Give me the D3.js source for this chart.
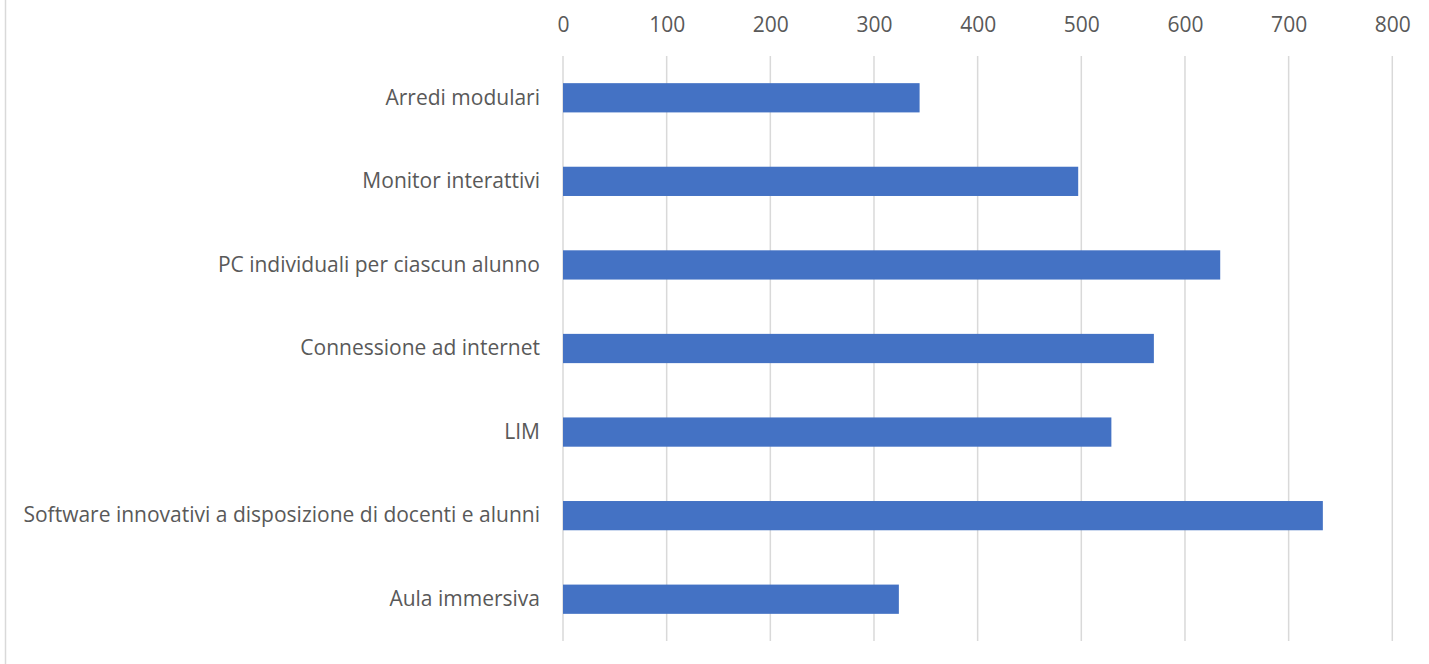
<!DOCTYPE html>
<html><head><meta charset="utf-8">
<script src="https://cdn.jsdelivr.net/npm/d3@7"></script>
<style>body{margin:0;background:#fff}svg{display:block}</style>
</head><body>
<script>
const categories = ["Arredi modulari","Monitor interattivi","PC individuali per ciascun alunno","Connessione ad internet","LIM","Software innovativi a disposizione di docenti e alunni","Aula immersiva"];
const values = [344, 497, 634, 570, 529, 733, 324];
const ticks = [0,100,200,300,400,500,600,700,800];

const W=1429,H=664;
const svg=d3.select("body").append("svg").attr("width",W).attr("height",H);
const font="'Open Sans', sans-serif";
svg.append("line").attr("x1",5.5).attr("x2",5.5).attr("y1",0).attr("y2",H).attr("stroke","#d9d9d9").attr("stroke-width",1.5);

const x=d3.scaleLinear().domain([0,800]).range([563,1392.3]);
const y=d3.scaleBand().domain(categories).range([56,641]).paddingInner(0.65).paddingOuter(0.325);

const g=svg.append("g");
g.selectAll("line.grid").data(ticks).join("line").attr("class","grid")
 .attr("x1",d=>x(d)).attr("x2",d=>x(d)).attr("y1",56).attr("y2",641)
 .attr("stroke","#d9d9d9").attr("stroke-width",1.5);

const xa=d3.axisTop(x).tickValues(ticks).tickSize(0).tickPadding(0);
const ax=svg.append("g").attr("transform","translate(0,32)").call(xa);
ax.select(".domain").remove();
ax.selectAll("text").attr("font-family",font).attr("font-size",21).attr("fill","#595959").attr("dy",0);

g.selectAll("rect").data(values).join("rect")
 .attr("x",x(0)).attr("y",(d,i)=>y(categories[i])).attr("height",y.bandwidth())
 .attr("width",d=>x(d)-x(0)).attr("fill","#4472C4");

const ya=d3.axisLeft(y).tickSize(0).tickPadding(0);
const ay=svg.append("g").attr("transform","translate(540,0)").call(ya);
ay.select(".domain").remove();
ay.selectAll("text").attr("font-family",font).attr("font-size",21).attr("fill","#595959");
</script>
</body></html>
